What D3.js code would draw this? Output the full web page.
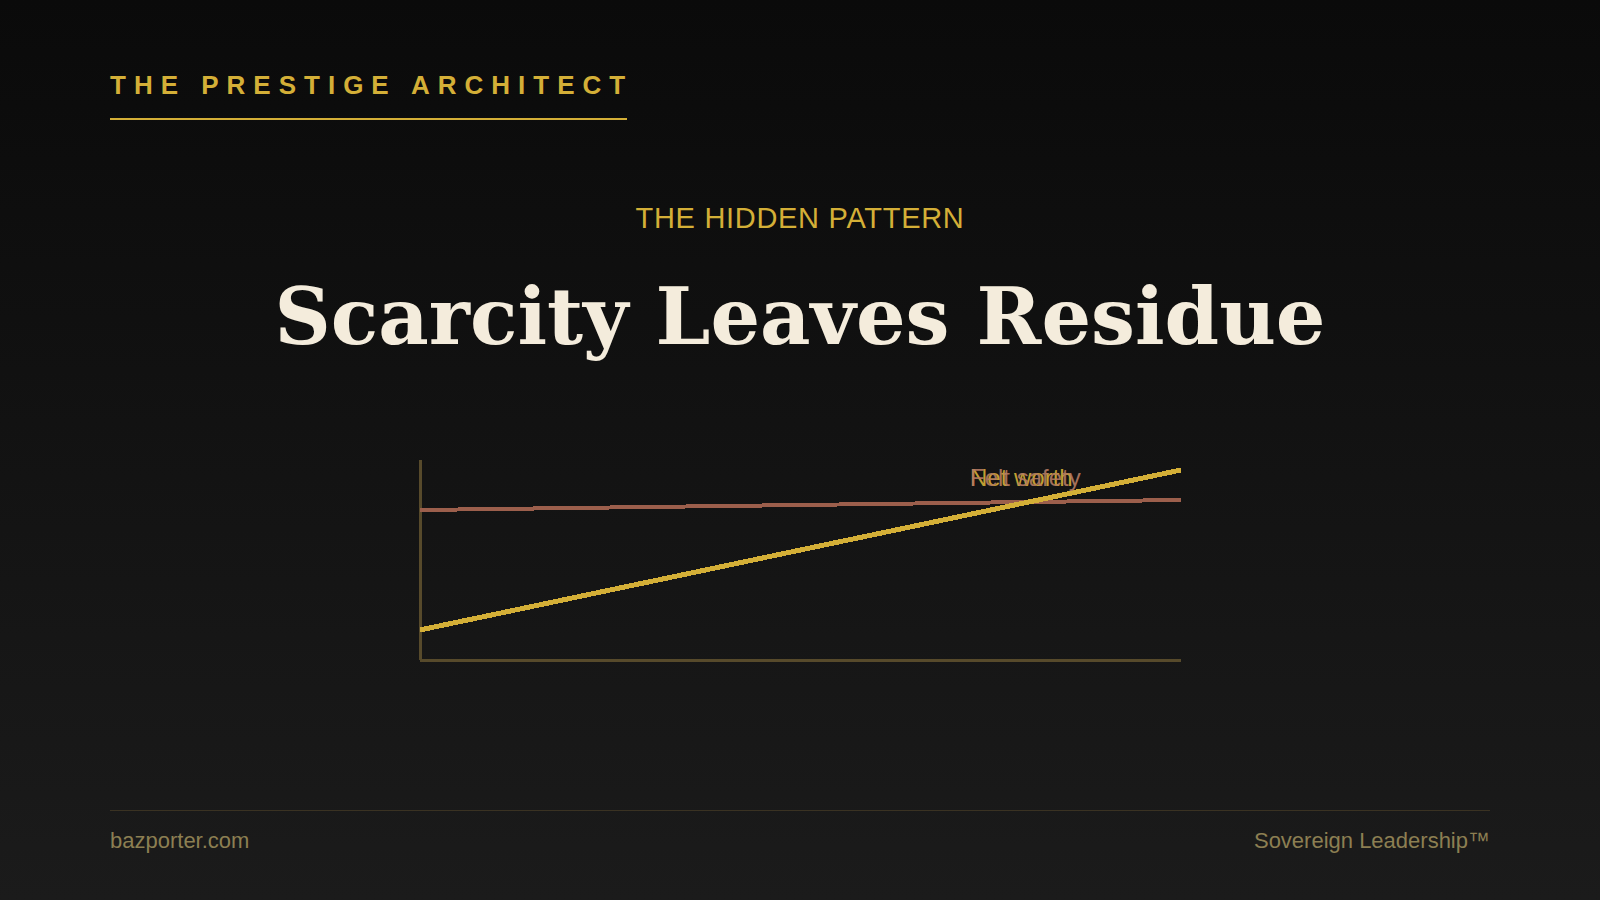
<!DOCTYPE html>
<html>
<head>
<meta charset="utf-8">
<script src="https://cdn.jsdelivr.net/npm/d3@7"></script>
<style>
  html, body { margin: 0; padding: 0; }
  body { width: 1600px; height: 900px; overflow: hidden; background: linear-gradient(180deg, #0a0a0a 0%, #1b1b1b 100%); }
  svg { display: block; }
</style>
</head>
<body>
<svg id="chart" width="1600" height="900"></svg>
<script>
// ---- data ----
const periods = [0, 1, 2, 3, 4, 5, 6, 7, 8, 9, 10];
const netWorth = [15, 23, 31, 39, 47, 55, 63, 71, 79, 87, 95];
const feltSafety = [75, 75.5, 76, 76.5, 77, 77.5, 78, 78.5, 79, 79.5, 80];
const seriesNames = ["Net worth", "Felt safety"];

const svg = d3.select("#chart");
const gold = "#d4af37";
const rust = "#9c5f4c";

// header
svg.append("text")
  .attr("x", 110).attr("y", 93.5)
  .attr("fill", gold)
  .style("font-family", "Liberation Sans, Arial, sans-serif")
  .style("font-weight", "bold")
  .style("font-size", "26px")
  .style("letter-spacing", "8px")
  .text("THE PRESTIGE ARCHITECT");
svg.append("line")
  .attr("x1", 110).attr("x2", 627).attr("y1", 119).attr("y2", 119)
  .attr("stroke", gold).attr("stroke-width", 2);

// subtitle
svg.append("text")
  .attr("x", 800).attr("y", 227.5)
  .attr("text-anchor", "middle")
  .attr("fill", gold)
  .style("font-family", "Liberation Sans, Arial, sans-serif")
  .style("font-size", "29px")
  .style("letter-spacing", "0.7px")
  .text("THE HIDDEN PATTERN");

// title
svg.append("text")
  .attr("x", 800).attr("y", 344)
  .attr("text-anchor", "middle")
  .attr("fill", "#f4ecdc")
  .style("font-family", "DejaVu Serif, Georgia, serif")
  .style("font-weight", "bold")
  .style("font-size", "78px")
  .text("Scarcity Leaves Residue");

// chart
const x = d3.scaleLinear().domain([0, 10]).range([420, 1181]);
const y = d3.scaleLinear().domain([0, 100]).range([660, 460]);

const axisColor = "#574a2b";
svg.append("line").attr("x1", x(0)).attr("x2", x(0)).attr("y1", y(100)).attr("y2", y(0))
  .attr("stroke", axisColor).attr("stroke-width", 3).attr("shape-rendering", "crispEdges");
svg.append("line").attr("x1", x(0)).attr("x2", x(10)).attr("y1", y(0)).attr("y2", y(0))
  .attr("stroke", axisColor).attr("stroke-width", 3).attr("shape-rendering", "crispEdges");

const line = d3.line().x((d, i) => x(periods[i])).y(d => y(d));

svg.append("path").datum(feltSafety)
  .attr("d", line).attr("fill", "none")
  .attr("stroke", rust).attr("stroke-width", 4)
  .attr("shape-rendering", "crispEdges");
svg.append("path").datum(netWorth)
  .attr("d", line).attr("fill", "none")
  .attr("stroke", gold).attr("stroke-width", 5)
  .attr("shape-rendering", "crispEdges");

const labelColors = [gold, "#b37a62"];
seriesNames.forEach((name, i) => {
  svg.append("text")
    .attr("x", 970).attr("y", 486)
    .attr("fill", labelColors[i])
    .attr("opacity", 0.9)
    .style("font-family", "Liberation Sans, Arial, sans-serif")
    .style("font-size", "24px")
    .text(name);
});

// footer
svg.append("line")
  .attr("x1", 110).attr("x2", 1490).attr("y1", 810.5).attr("y2", 810.5)
  .attr("stroke", "#3a3222").attr("stroke-width", 1);
svg.append("text")
  .attr("x", 110).attr("y", 848)
  .attr("fill", "#8c7f52")
  .style("font-family", "Liberation Sans, Arial, sans-serif")
  .style("font-size", "22px")
  .text("bazporter.com");
svg.append("text")
  .attr("x", 1490).attr("y", 848)
  .attr("text-anchor", "end")
  .attr("fill", "#8c7f52")
  .style("font-family", "Liberation Sans, Arial, sans-serif")
  .style("font-size", "22px")
  .text("Sovereign Leadership™");
</script>
</body>
</html>
